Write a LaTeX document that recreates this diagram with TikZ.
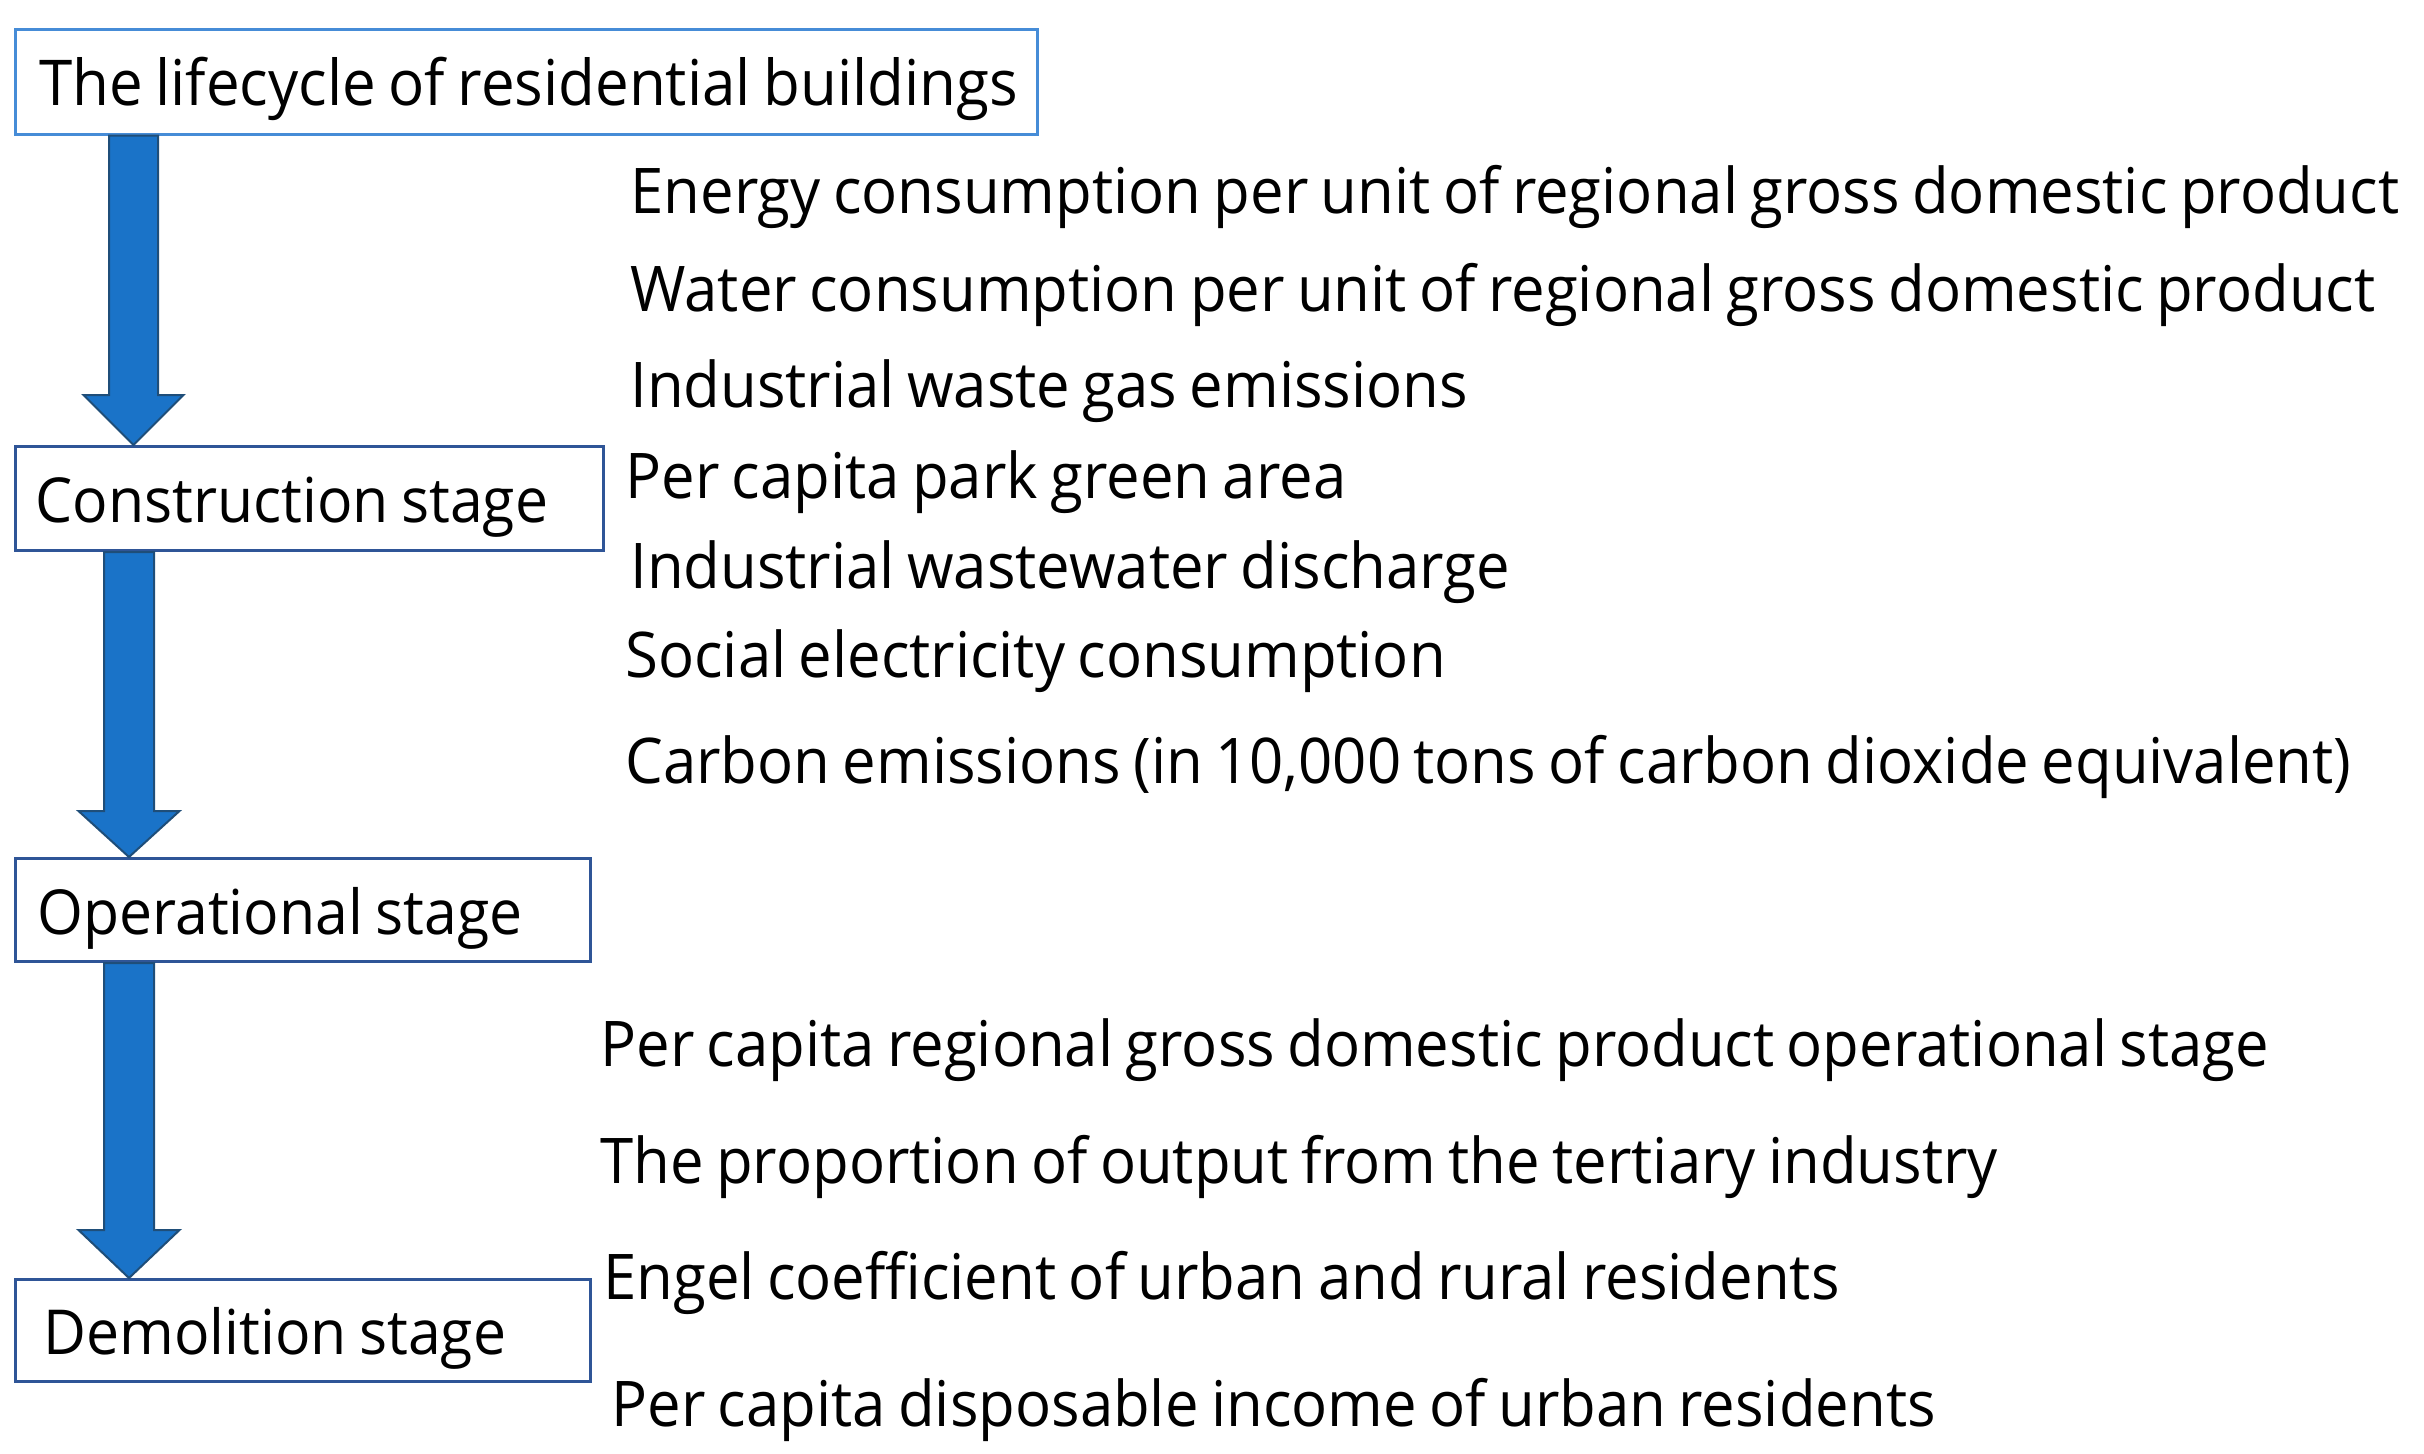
\documentclass[tikz,border=0pt]{standalone}
\usepackage{fontspec}
\setmainfont[FakeStretch=0.95,WordSpace=0.8]{Open Sans}
\usetikzlibrary{calc}
\definecolor{lightedge}{RGB}{70,140,215}
\definecolor{darkedge}{RGB}{47,85,151}
\definecolor{arrowfill}{RGB}{26,115,200}
\definecolor{arrowedge}{RGB}{31,78,121}
\newcommand\lcarrow[6]{%
  \draw[blockarr] ($(#3 |- #1.south)+(-#4,0)$) -- ($(#3 |- #2.north)+(-#4,-#6)$)
    -- ($(#3 |- #2.north)+(-#5,-#6)$) -- (#3 |- #2.north)
    -- ($(#3 |- #2.north)+(#5,-#6)$) -- ($(#3 |- #2.north)+(#4,-#6)$)
    -- ($(#3 |- #1.south)+(#4,0)$) -- cycle;}
\newcommand\lefttext[2]{\makebox[#1][l]{#2}}
\begin{document}
\begin{tikzpicture}[x=0.5pt,y=-0.5pt,
  every node/.style={font=\fontsize{31.5pt}{38pt}\selectfont, text=black},
  stagebox/.style={draw=darkedge, line width=1.5pt, anchor=north west,
    inner ysep=0pt, text height=28pt, text depth=4pt,
    font=\fontsize{31pt}{38pt}\selectfont},
  item/.style={anchor=base west, inner sep=0pt},
  blockarr/.style={fill=arrowfill, draw=arrowedge, line width=1pt, line join=miter}]
\useasboundingbox (0,0) rectangle (2424,1453);

% stage boxes
\node[stagebox, draw=lightedge, line width=1.3pt, inner xsep=12pt,
  minimum height=52.5pt, font=\fontsize{31.6pt}{38pt}\selectfont] (top) at (14,28)
  {\lefttext{487pt}{The lifecycle of residential buildings}};
\node[stagebox, inner xsep=10pt, minimum height=52pt]
  (con) at (14,445) {\lefttext{274pt}{Construction stage}};
\node[stagebox, inner xsep=11pt, minimum height=51.5pt]
  (ope) at (14,857) {\lefttext{265.5pt}{Operational stage}};
\node[stagebox, inner xsep=14pt, minimum height=51pt]
  (dem) at (14,1278) {\lefttext{259.5pt}{Demolition stage}};

% block arrows
\coordinate (ax1) at (133.5,0);
\coordinate (ax2) at (129,0);
\lcarrow{top}{con}{ax1}{24.5}{50}{50}
\lcarrow{con}{ope}{ax2}{25}{50.5}{46}
\lcarrow{ope}{dem}{ax2}{25}{50.5}{48}

% indicator texts
\node[item] (i1) at (630,213) {Energy consumption per unit of regional gross domestic product};
\node[item] (i2) at (630,311) {Water consumption per unit of regional gross domestic product};
\node[item] (i3) at (630,407) {Industrial waste gas emissions};
\node[item] (i4) at (625,498) {Per capita park green area};
\node[item] (i5) at (630,588) {Industrial wastewater discharge};
\node[item] (i6) at (625,677) {Social electricity consumption};
\node[item] (i7) at (625,783) {Carbon emissions (in 10,000 tons of carbon dioxide equivalent)};
\node[item] (i8) at (600,1066) {Per capita regional gross domestic product operational stage};
\node[item] (i9) at (600,1183) {The proportion of output from the tertiary industry};
\node[item] (i10) at (603,1299) {Engel coefficient of urban and rural residents};
\node[item] (i11) at (611,1426) {Per capita disposable income of urban residents};
\end{tikzpicture}
\end{document}
